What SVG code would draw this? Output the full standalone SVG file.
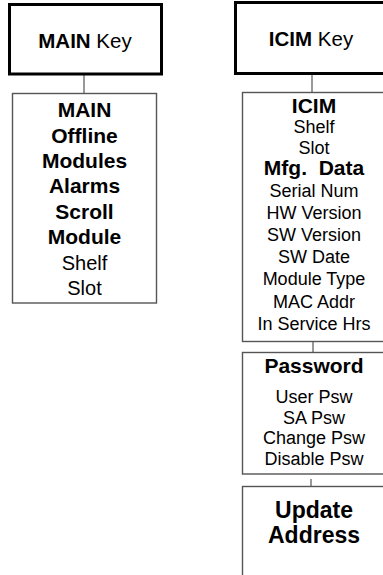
<svg xmlns="http://www.w3.org/2000/svg" width="383" height="575" viewBox="0 0 383 575">
<style>
text{font-family:"Liberation Sans",Arial,sans-serif;fill:#000;text-anchor:middle}
.key{fill:#fff;stroke:#000;stroke-width:3}
.box{fill:#fff;stroke:#555;stroke-width:1.4}
.b{font-weight:bold}
.hd{font-size:20.5px}
.m{font-size:21px}
.r18{font-size:18px}
.r20{font-size:20px}
.ua{font-size:23px;font-weight:bold}
.conn line{stroke:#555;stroke-width:1.2}
</style>
<rect width="383" height="575" fill="#fff"/>
<g class="conn">
<line x1="84" y1="75" x2="84" y2="94"/>
<line x1="312" y1="74" x2="312" y2="93"/>
<line x1="313" y1="342" x2="313" y2="352"/>
<line x1="311" y1="479" x2="311" y2="486"/>
</g>
<g id="main-key">
<rect class="key" x="9.5" y="4.5" width="152" height="69.5"/>
<text class="hd" x="85" y="48"><tspan class="b">MAIN</tspan> Key</text>
</g>
<g id="main-menu">
<rect class="box" x="12.5" y="93.5" width="144" height="209.5"/>
<text class="m b" x="84.5" y="117">MAIN</text>
<text class="m b" x="84.5" y="142.5">Offline</text>
<text class="m b" x="84.5" y="168">Modules</text>
<text class="m b" x="84.5" y="193">Alarms</text>
<text class="m b" x="84.5" y="218.5">Scroll</text>
<text class="m b" x="84.5" y="244">Module</text>
<text class="r20" x="84.5" y="269.5">Shelf</text>
<text class="r20" x="84.5" y="295">Slot</text>
</g>
<g id="icim-key">
<rect class="key" x="235.5" y="2.5" width="160" height="71"/>
<text class="hd" x="311" y="46"><tspan class="b">ICIM</tspan> Key</text>
</g>
<g id="icim-menu">
<rect class="box" x="242.5" y="92.5" width="150" height="249"/>
<text class="m b" x="314" y="113">ICIM</text>
<text class="r18" x="314" y="133">Shelf</text>
<text class="r18" x="314" y="153.5">Slot</text>
<text class="m b" x="314" y="175" xml:space="preserve">Mfg.  Data</text>
<text class="r18" x="314" y="196.5">Serial Num</text>
<text class="r18" x="314" y="219">HW Version</text>
<text class="r18" x="314" y="241">SW Version</text>
<text class="r18" x="314" y="263">SW Date</text>
<text class="r18" x="314" y="285">Module Type</text>
<text class="r18" x="314" y="308">MAC Addr</text>
<text class="r18" x="314" y="330">In Service Hrs</text>
</g>
<g id="password-menu">
<rect class="box" x="242.5" y="352.5" width="150" height="121.5"/>
<text class="m b" x="314" y="373">Password</text>
<text class="r18" x="314" y="403">User Psw</text>
<text class="r18" x="314" y="423.5">SA Psw</text>
<text class="r18" x="314" y="444">Change Psw</text>
<text class="r18" x="314" y="465">Disable Psw</text>
</g>
<g id="update-address">
<rect class="box" x="242.5" y="486.5" width="150" height="100"/>
<text class="ua" x="314" y="518">Update</text>
<text class="ua" x="314" y="543">Address</text>
</g>
</svg>
